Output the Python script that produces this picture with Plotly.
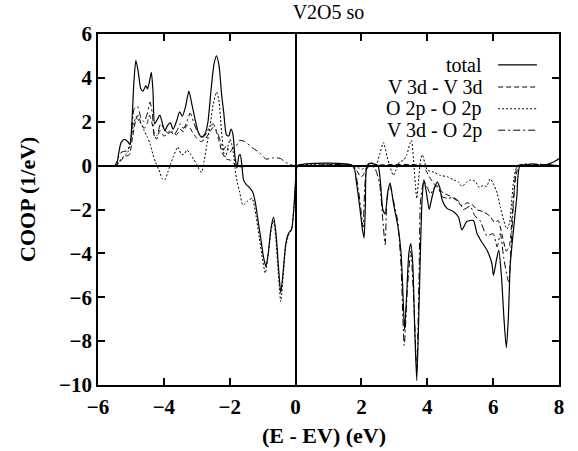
import plotly.graph_objects as go

# Energy grids (eV, relative to EV) and COOP values (1/eV) for each curve
total_E = [-6.0, -5.45, -5.38, -5.3, -5.2, -5.1, -5.03, -4.97, -4.91, -4.85, -4.78, -4.7, -4.63, -4.55, -4.5,
           -4.44, -4.38, -4.33, -4.28, -4.2, -4.12, -4.04, -3.97, -3.88, -3.8, -3.72, -3.62, -3.52, -3.44,
           -3.34, -3.24, -3.15, -3.05, -2.95, -2.85, -2.75, -2.66, -2.57, -2.48, -2.40, -2.32, -2.25, -2.18,
           -2.1, -2.03, -1.96, -1.9, -1.84, -1.78, -1.72, -1.68, -1.63, -1.58, -1.5, -1.4, -1.3, -1.22, -1.15,
           -1.05, -0.97, -0.9, -0.83, -0.75, -0.67, -0.6, -0.52, -0.45, -0.38, -0.3, -0.22, -0.12, -0.05,
           0.02, 0.06, 1.74, 1.85, 1.95, 2.03, 2.08, 2.12, 2.17, 2.3, 2.5, 2.58, 2.65, 2.72, 2.8, 2.87, 2.95,
           3.02, 3.1, 3.2, 3.26, 3.31, 3.37, 3.44, 3.5, 3.56, 3.62, 3.68, 3.74, 3.79, 3.84, 3.9, 3.97, 4.06,
           4.12, 4.2, 4.3, 4.38, 4.46, 4.6, 4.8, 4.95, 5.05, 5.2, 5.4, 5.51, 5.62, 5.81, 5.96, 6.01, 6.1,
           6.17, 6.25, 6.33, 6.4, 6.46, 6.52, 6.62, 6.72, 6.82, 7.3, 7.5, 7.7, 7.9, 8.0]
total_C = [0, 0, 0.5, 1.05, 1.2, 1.1, 0.95, 2.0, 3.8, 4.8, 4.3, 3.5, 3.4, 3.65, 3.5,
           3.8, 4.25, 3.4, 1.9, 2.1, 2.3, 1.9, 1.6, 1.85, 1.95, 1.65, 2.0, 2.45, 2.25,
           2.7, 3.4, 2.8, 2.1, 1.5, 1.3, 1.45, 2.0, 3.4, 4.6, 5.0, 4.5, 3.3, 2.4,
           1.4, 1.35, 1.67, 1.4, 0.4, -0.1, 0.45, 0.5, 0.0, -0.65, -0.85, -1.0, -1.2, -1.7, -2.4,
           -3.4, -4.2, -4.6, -4.0, -2.9, -2.35, -3.0, -4.6, -5.8, -4.9, -3.6, -3.1, -2.9, -1.9,
           -0.3, 0, 0, -0.8, -1.9, -2.9, -3.3, -1.8, 0.0, 0.1, 0.0, -0.8, -2.0, -2.2, -1.2, -0.8, -1.5,
           -2.1, -2.7, -3.9, -5.8, -7.5, -6.0, -4.0, -3.55, -4.5, -7.5, -9.8, -7.0, -4.0, -1.6, -0.65, -1.2, -2.0,
           -1.6, -1.1, -0.75, -1.0, -1.6, -1.95, -2.1, -2.35, -2.93, -2.55, -2.5, -3.1, -3.4, -3.85, -4.45, -5.0, -4.3,
           -3.85, -5.0, -7.0, -8.3, -7.0, -4.5, -2.9, -1.4, 0, 0, 0.02, 0.08, 0.22, 0.33]

vv_E = [-6.0, -5.45, -5.35, -5.2, -5.05, -4.95, -4.85, -4.78, -4.7, -4.6, -4.5, -4.44, -4.37, -4.3, -4.22,
        -4.12, -4.0, -3.88, -3.75, -3.62, -3.5, -3.4, -3.3, -3.2, -3.1, -3.0, -2.88, -2.75, -2.62, -2.5,
        -2.42, -2.32, -2.22, -2.1, -1.98, -1.88, -1.78, -1.6, -1.3, 0.0, 1.74, 1.85, 1.97, 2.05, 2.15, 2.3,
        3.85, 3.95, 4.1, 4.3, 4.5, 4.7, 4.9, 5.05, 5.2, 5.35, 5.5, 5.7, 5.9, 6.05, 6.15, 6.28, 6.4, 6.5,
        6.6, 6.7, 6.8, 8.0]
vv_C = [0, 0, 0.15, 0.4, 0.5, 1.3, 2.1, 2.3, 1.95, 1.7, 1.95, 2.3, 2.0, 1.5, 1.2,
        1.6, 1.35, 1.45, 1.55, 1.4, 1.65, 1.55, 1.85, 1.7, 1.45, 1.25, 1.1, 1.2, 1.5, 1.75,
        1.6, 1.1, 0.55, 0.3, 0.25, 0.1, -0.05, -0.05, 0, 0, 0, -0.2, -0.5, -0.45, -0.1, 0,
        0, -0.2, -0.6, -1.0, -1.25, -1.4, -1.6, -1.85, -1.7, -1.75, -2.0, -2.1, -2.3, -2.6, -2.5, -3.2, -3.9, -3.6,
        -1.8, -0.4, 0, 0]

oo_E = [-6.0, -5.45, -5.3, -5.1, -5.0, -4.9, -4.83, -4.75, -4.68, -4.6, -4.5, -4.42, -4.33, -4.25, -4.15,
        -4.05, -3.97, -3.88, -3.8, -3.7, -3.58, -3.48, -3.4, -3.3, -3.2, -3.1, -3.0, -2.9, -2.85, -2.78,
        -2.7, -2.6, -2.5, -2.4, -2.33, -2.25, -2.17, -2.12, -2.05, -1.99, -1.93, -1.88, -1.84, -1.78, -1.7,
        -1.6, -1.45, -1.32, -1.2, -1.1, -1.0, -0.92, -0.85, -0.75, -0.67, -0.6, -0.52, -0.45, -0.38, -0.3,
        -0.22, -0.12, -0.05, 0.02, 0.06, 1.74, 1.9, 2.05, 2.15, 2.25, 2.35, 2.45, 2.55, 2.67, 2.78, 2.88,
        2.97, 3.05, 3.15, 3.28, 3.38, 3.47, 3.52, 3.58, 3.64, 3.68, 3.74, 3.8, 3.85, 3.92, 4.0, 4.2, 4.4,
        4.6, 4.8, 4.95, 5.05, 5.2, 5.3, 5.45, 5.58, 5.7, 5.8, 5.91, 6.0, 6.12, 6.22, 6.32, 6.42, 6.5, 6.57,
        6.64, 6.75, 8.0]
oo_C = [0, 0, 0.3, 0.6, 1.2, 2.0, 2.25, 2.0, 1.9, 1.6, 1.3, 1.0, 0.5, 0.15, -0.2,
        -0.6, -0.65, -0.3, 0.05, 0.45, 0.85, 0.55, 0.5, 0.7, 0.55, 0.3, 0.05, -0.25, -0.3, 0.2,
        0.9, 1.8, 2.8, 3.35, 3.0, 1.6, 0.5, 0.4, 0.9, 1.2, 0.9, 0.5, -0.1, -0.7, -1.2,
        -1.8, -1.6, -1.5, -2.3, -3.3, -4.3, -4.9, -4.3, -3.0, -2.5, -3.3, -5.0, -6.2, -5.1, -3.7,
        -3.2, -2.9, -1.9, -0.3, 0, 0, -0.1, -0.15, 0.0, 0.15, 0.1, 0.05, 0.5, 1.05, 0.4, -0.1,
        -0.45, -0.2, 0.15, 0.25, 0.5, 1.0, 1.15, 0.3, -0.9, -1.5, -0.6, 0.3, 0.5, 0.15, -0.2, -0.3, -0.45,
        -0.5, -0.65, -0.75, -0.95, -0.75, -0.66, -0.7, -1.0, -0.9, -0.95, -0.6, -0.8, -1.25, -1.9, -2.5, -2.9, -2.6, -1.5,
        -0.5, 0, 0]

vo_E = [-6.0, -5.5, -5.4, -5.3, -5.1, -5.0, -4.9, -4.8, -4.7, -4.6, -4.5, -4.42, -4.35, -4.28, -4.2,
        -4.1, -4.0, -3.9, -3.8, -3.7, -3.6, -3.5, -3.4, -3.3, -3.2, -3.1, -3.0, -2.9, -2.8, -2.7, -2.6,
        -2.5, -2.4, -2.3, -2.2, -2.1, -2.0, -1.9, -1.8, -1.7, -1.55, -1.3, -1.1, -0.9, -0.7, -0.47, -0.3,
        -0.05, 1.7, 1.8, 1.9, 2.0, 2.05, 2.1, 2.15, 2.25, 2.4, 2.55, 2.65, 2.72, 2.78, 2.87, 3.0, 3.1,
        3.2, 3.3, 3.4, 3.5, 3.6, 3.68, 3.75, 3.8, 3.9, 4.0, 4.1, 4.2, 4.3, 4.44, 4.63, 4.8, 5.0, 5.1,
        5.3, 5.45, 5.6, 5.81, 6.0, 6.12, 6.22, 6.32, 6.47, 6.55, 6.65, 6.75, 8.0]
vo_C = [0, 0, 0.3, 0.6, 0.7, 1.2, 2.6, 2.7, 2.2, 2.0, 2.4, 2.9, 2.4, 1.3, 1.4,
        1.9, 1.7, 1.5, 1.6, 1.4, 1.6, 1.9, 1.7, 2.0, 2.4, 2.0, 1.6, 1.4, 1.3, 1.5, 1.8,
        1.9, 1.6, 1.2, 0.7, 0.9, 0.6, 0.8, 0.9, 1.15, 1.1, 0.8, 0.6, 0.3, 0.35, 0.33, 0.15,
        0.0, 0, -0.2, -1.0, -2.2, -2.8, -1.0, -0.2, 0, -0.1, -0.8, -2.5, -3.6, -1.5, -0.9, -1.8, -2.5,
        -4.5, -8.2, -5.5, -3.9, -6.5, -9.3, -5.0, -1.5, -0.7, -1.0, -1.3, -1.0, -0.9, -1.4, -1.5, -1.45, -1.7, -2.0,
        -1.85, -2.3, -2.5, -3.2, -3.1, -3.7, -3.1, -4.2, -5.3, -3.5, -1.0, 0, 0]

series = [
    ("total", total_E, total_C, "solid", 1.2),
    ("V 3d - V 3d", vv_E, vv_C, "5px,3px", 1.0),
    ("O 2p - O 2p", oo_E, oo_C, "2px,2px", 1.0),
    ("V 3d - O 2p", vo_E, vo_C, "7px,3px,2px,3px", 1.0),
]

FONT = "Liberation Serif"

fig = go.Figure()
for name, xs, ys, dash, w in series:
    fig.add_trace(go.Scatter(
        x=xs, y=ys, mode="lines", name=name, showlegend=False,
        line=dict(color="black", width=w, dash=dash, shape="spline", smoothing=0.6),
    ))

# Key in the upper right: right-aligned label followed by a line sample
key_rows_y = [0.912, 0.849, 0.787, 0.726]
shapes = []
annotations = []
for (name, _, _, dash, w), ky in zip(series, key_rows_y):
    annotations.append(dict(
        x=0.837, y=ky, xref="paper", yref="paper", text=name, showarrow=False,
        xanchor="right", yanchor="middle", font=dict(family=FONT, size=20, color="black"),
    ))
    shapes.append(dict(
        type="line", xref="paper", yref="paper", x0=0.868, x1=0.952, y0=ky, y1=ky,
        line=dict(color="black", width=w, dash=dash),
    ))

# Axis titles
annotations.append(dict(
    x=0.49, y=-0.143, xref="paper", yref="paper", text="(E - EV) (eV)", showarrow=False,
    xanchor="center", yanchor="middle", font=dict(family=FONT, size=22, color="black", weight="bold"),
))
annotations.append(dict(
    x=-0.152, y=0.53, xref="paper", yref="paper", text="COOP (1/eV)", showarrow=False,
    textangle=-90, xanchor="center", yanchor="middle",
    font=dict(family=FONT, size=22, color="black", weight="bold"),
))

axis_common = dict(
    showgrid=False, ticks="inside", ticklen=7, tickwidth=1.5, tickcolor="black",
    showline=True, linecolor="black", linewidth=1.5, mirror="ticks",
    zeroline=True, zerolinecolor="black", zerolinewidth=1.5,
    tickfont=dict(family=FONT, size=21, color="black", weight="bold"),
)

fig.update_layout(
    width=578, height=451,
    margin=dict(l=98, r=19, t=34, b=66),
    paper_bgcolor="white", plot_bgcolor="white",
    title=dict(text="V2O5 so", x=0.5, xref="paper", y=0.973, yanchor="middle",
               font=dict(family=FONT, size=20, color="black")),
    xaxis=dict(range=[-6, 8], tickvals=[-6, -4, -2, 0, 2, 4, 6, 8], ticklabelstandoff=2, **axis_common),
    yaxis=dict(range=[-10, 6], tickvals=[-10, -8, -6, -4, -2, 0, 2, 4, 6], **axis_common),
    shapes=shapes, annotations=annotations,
)

fig.write_html("out.html")
